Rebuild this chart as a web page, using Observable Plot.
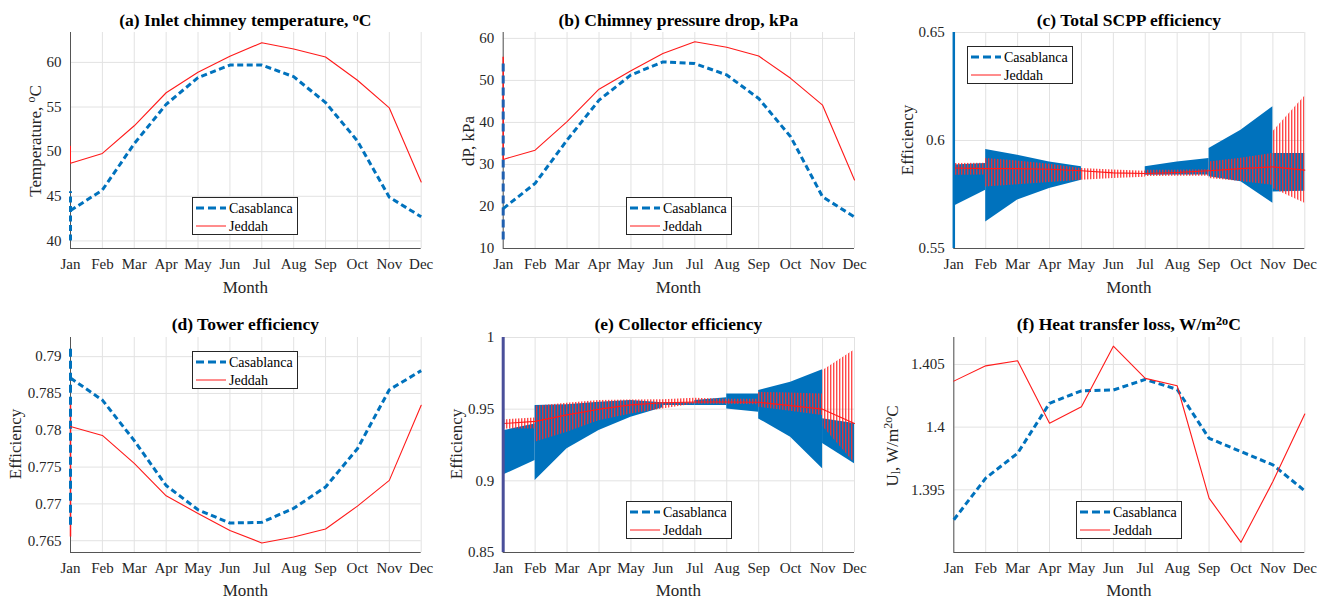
<!DOCTYPE html>
<html>
<head>
<meta charset="utf-8">
<script src="https://cdn.jsdelivr.net/npm/d3@7"></script>
<script src="https://cdn.jsdelivr.net/npm/@observablehq/plot@0.6"></script>
<style>
  body { margin: 0; background: #fff; font-family: 'Liberation Serif', serif; }
  #root { position: relative; width: 1331px; height: 601px; overflow: hidden; background: #fff; }
  .panel { position: absolute; }
  .title { position: absolute; font-family: 'Liberation Serif', serif; font-weight: bold; font-size: 17.5px; line-height: 17px; color: #000; white-space: nowrap; transform: translateX(-50%); }
  .xlab { position: absolute; font-family: 'Liberation Serif', serif; font-size: 17px; line-height: 17px; color: #262626; white-space: nowrap; transform: translate(-50%, -50%); }
  .ylab { position: absolute; font-family: 'Liberation Serif', serif; font-size: 17px; line-height: 17px; color: #262626; white-space: nowrap; transform: translate(-50%, -50%) rotate(-90deg); }
  sup { font-size: 0.7em; vertical-align: 0.45em; line-height: 0; }
  sub { font-size: 0.7em; vertical-align: -0.25em; line-height: 0; }
  .legend { position: absolute; }
</style>
</head>
<body>
<svg width="0" height="0" style="position:absolute">
  <defs>
    <pattern id="hatchRed" patternUnits="userSpaceOnUse" width="3" height="10">
      <rect x="0" y="0" width="1.4" height="10" fill="#ff2a2a" fill-opacity="0.85"></rect>
    </pattern>
  </defs>
</svg>
<div id="root"></div>
<script>
// ---------------- data ----------------
const months = ["Jan","Feb","Mar","Apr","May","Jun","Jul","Aug","Sep","Oct","Nov","Dec"];
const monthIdx = d3.range(12);
const seriesNames = ["Casablanca", "Jeddah"];

// (a) Inlet chimney temperature
const tempCasa = [43.4, 45.7, 50.9, 55.3, 58.3, 59.7, 59.7, 58.4, 55.5, 51.2, 44.9, 42.7];
const tempJed  = [48.7, 49.8, 52.9, 56.6, 58.9, 60.7, 62.2, 61.5, 60.6, 58.0, 54.9, 46.6];
const tempTicks = [40, 45, 50, 55, 60];
const tempJanCasa = [40.0, 45.5];
const tempJanJed  = [48.7, 50.6];

// (b) Chimney pressure drop
const dpCasa = [19.5, 25.5, 35.8, 45.3, 51.3, 54.4, 54.0, 51.3, 45.7, 36.6, 22.3, 17.5];
const dpJed  = [31.2, 33.4, 40.2, 47.9, 52.3, 56.4, 59.2, 57.9, 55.8, 50.5, 44.1, 26.3];
const dpTicks = [10, 20, 30, 40, 50, 60];
const dpJanCasa = [12.0, 54.8];
const dpJanJed  = [31.2, 55.5];

// (c) Total SCPP efficiency (oscillation envelopes)
const cCasaX   = [0, 1,   1, 2, 3, 4,   6, 7, 8,   8, 9, 10,   10, 11];
const cCasaLo  = [0.5696, 0.5770,  0.5623, 0.5724, 0.5778, 0.5816,  0.5839, 0.5840, 0.5840,  0.5832, 0.5809, 0.5709,  0.5762, 0.5765];
const cCasaHi  = [0.5886, 0.5893,  0.5958, 0.5932, 0.5900, 0.5878,  0.5878, 0.5900, 0.5917,  0.5963, 0.6048, 0.6156,  0.5940, 0.5940];
const cCasaSeg = [0, 0,   1, 1, 1, 1,   2, 2, 2,   3, 3, 3,   4, 4];
const cJedX    = [0, 1,   1, 2, 3, 4, 5, 6,   6, 7, 8,   8, 9, 10,   10, 11];
const cJedLo   = [0.5839, 0.5840,  0.5785, 0.5795, 0.5805, 0.5816, 0.5824, 0.5830,  0.5833, 0.5835, 0.5835,  0.5824, 0.5810, 0.5793,  0.5778, 0.5709];
const cJedHi   = [0.5894, 0.5895,  0.5917, 0.5905, 0.5890, 0.5870, 0.5863, 0.5858,  0.5862, 0.5862, 0.5865,  0.5900, 0.5918, 0.5940,  0.6040, 0.6205];
const cJedSeg  = [0, 0,   1, 1, 1, 1, 1, 1,   2, 2, 2,   3, 3, 3,   4, 4];
const cJedMid  = [0.5873, 0.5870, 0.5870, 0.5867, 0.5860, 0.5850, 0.5847, 0.5852, 0.5860, 0.5870, 0.5878, 0.5863];
const cTicks = [0.55, 0.6, 0.65];
const cJanCasa = [0.55, 0.65];

// (d) Tower efficiency
const towCasa = [0.7871, 0.7841, 0.7786, 0.7725, 0.7692, 0.7674, 0.7675, 0.7694, 0.7723, 0.7775, 0.7855, 0.7881];
const towJed  = [0.7805, 0.7793, 0.7755, 0.7711, 0.7687, 0.7664, 0.7647, 0.7655, 0.7666, 0.7697, 0.7732, 0.7834];
const towTicks = [0.765, 0.77, 0.775, 0.78, 0.785, 0.79];
const towJanCasa = [0.7671, 0.7913];
const towJanJed  = [0.7655, 0.7840];

// (e) Collector efficiency (oscillation envelopes)
const eCasaX   = [0, 1,   1, 2, 3, 4, 5,   5, 6,   6, 7,   7, 8,   8, 9, 10,   10, 11];
const eCasaLo  = [0.9040, 0.9142,  0.9003, 0.9223, 0.9351, 0.9444, 0.9510,  0.9525, 0.9525,  0.9525, 0.9525,  0.9502, 0.9478,  0.9432, 0.9304, 0.9084,  0.9260, 0.9120];
const eCasaHi  = [0.9350, 0.9397,  0.9525, 0.9530, 0.9548, 0.9560, 0.9545,  0.9545, 0.9545,  0.9560, 0.9580,  0.9606, 0.9606,  0.9630, 0.9687, 0.9775,  0.9434, 0.9400];
const eCasaSeg = [0, 0,   1, 1, 1, 1, 1,   2, 2,   3, 3,   4, 4,   5, 5, 5,   6, 6];
const eJedX    = [0, 1,   1, 2, 3, 4, 5, 6,   6, 7, 8,   8, 9, 10,   10, 11];
const eJedLo   = [0.9362, 0.9362,  0.9270, 0.9339, 0.9420, 0.9467, 0.9502, 0.9536,  0.9536, 0.9535, 0.9530,  0.9513, 0.9485, 0.9455,  0.9380, 0.9125];
const eJedHi   = [0.9425, 0.9439,  0.9520, 0.9541, 0.9560, 0.9564, 0.9566, 0.9576,  0.9576, 0.9570, 0.9570,  0.9617, 0.9612, 0.9606,  0.9768, 0.9912];
const eJedSeg  = [0, 0,   1, 1, 1, 1, 1, 1,   2, 2, 2,   3, 3, 3,   4, 4];
const eJedMid  = [0.9400, 0.9415, 0.9460, 0.9500, 0.9530, 0.9545, 0.9550, 0.9550, 0.9548, 0.9525, 0.9500, 0.9400];
const eTicks = [0.85, 0.9, 0.95, 1];
const eJanLine = [0.85, 1.0];

// (f) Heat transfer loss
const htCasa = [1.39261, 1.39593, 1.39792, 1.40190, 1.40290, 1.40296, 1.40381, 1.40301, 1.39911, 1.39805, 1.39699, 1.39492];
const htJed  = [1.40367, 1.40489, 1.40529, 1.40031, 1.40163, 1.40646, 1.40389, 1.40330, 1.39434, 1.39081, 1.39566, 1.40105];
const htTicks = [1.395, 1.4, 1.405];

// ---------------- styling ----------------
const FONT = "'Liberation Serif', serif";
const BLUE = "#0072BD", RED = "#ff1a1a", AXIS = "#555555", GRID = "#e2e2e2";
const DASH = "6,3.5";
const root = document.getElementById("root");

function addHTML(cls, html, x, y) {
  const d = document.createElement("div");
  d.className = cls;
  d.innerHTML = html;
  d.style.left = x + "px";
  d.style.top = y + "px";
  root.appendChild(d);
}

function legend(x, y) {
  const d = document.createElement("div");
  d.className = "legend";
  d.style.left = x + "px";
  d.style.top = y + "px";
  d.innerHTML = `<svg width="106" height="38" style="display:block">
    <rect x="0.5" y="0.5" width="105" height="37" fill="#fff" stroke="#262626" stroke-width="1"></rect>
    <line x1="4" x2="34" y1="11" y2="11" stroke="${BLUE}" stroke-width="3" stroke-dasharray="8,4"></line>
    <line x1="4" x2="34" y1="29" y2="29" stroke="${RED}" stroke-width="1"></line>
    <text x="37" y="16" font-size="14" fill="#000" style="font-family:${FONT}">${seriesNames[0]}</text>
    <text x="37" y="34" font-size="14" fill="#000" style="font-family:${FONT}">${seriesNames[1]}</text>
  </svg>`;
  root.appendChild(d);
}

function panel(cfg) {
  const {left, top, width, height, ml, mr, mt, mb, yDomain, yTicks, yFmt, marks,
         title, ylab, ylabPos, legendPos} = cfg;
  const svg = Plot.plot({
    width, height,
    marginLeft: ml, marginRight: mr, marginTop: mt, marginBottom: mb,
    style: {fontFamily: FONT, fontSize: "15px", color: "#262626", background: "transparent", overflow: "visible"},
    x: {type: "linear", domain: [0, 11]},
    y: {type: "linear", domain: yDomain},
    marks: [
      Plot.gridX(monthIdx, {stroke: GRID, strokeOpacity: 1}),
      Plot.gridY(yTicks, {stroke: GRID, strokeOpacity: 1}),
      Plot.axisX(monthIdx, {tickFormat: i => months[i], tickSize: 0, tickPadding: 10, fontSize: 15, label: null}),
      Plot.axisY(yTicks, {tickFormat: yFmt, tickSize: 0, tickPadding: 9, fontSize: 15, label: null}),
      Plot.ruleX([0], {stroke: AXIS, strokeWidth: 1}),
      Plot.ruleY([yDomain[0]], {stroke: AXIS, strokeWidth: 1}),
      ...marks
    ]
  });
  const wrap = document.createElement("div");
  wrap.className = "panel";
  wrap.style.left = left + "px";
  wrap.style.top = top + "px";
  wrap.appendChild(svg);
  root.appendChild(wrap);
  const cx = left + ml + (width - ml - mr) / 2;
  addHTML("title", title, cx, top + (top === 0 ? 12 : 16));
  addHTML("xlab", "Month", cx, top + height - mb + (top === 0 ? 39 : 38));
  addHTML("ylab", ylab, ylabPos[0], ylabPos[1]);
  legend(legendPos[0], legendPos[1]);
}

const fmt = d => String(d);

function lineCasa(vals) {
  return Plot.line(monthIdx, {x: i => i, y: i => vals[i], stroke: BLUE, strokeWidth: 3, strokeDasharray: DASH, strokeLinecap: "butt"});
}
function lineJed(vals) {
  return Plot.line(monthIdx, {x: i => i, y: i => vals[i], stroke: RED, strokeWidth: 1.1});
}
function janRule(span, stroke, sw, dash) {
  return Plot.ruleX([span], {x: 0, y1: d => d[0], y2: d => d[1], stroke, strokeWidth: sw, strokeDasharray: dash, strokeLinecap: "butt"});
}
function band(X, Lo, Hi, Seg, fill, opacity) {
  return Plot.areaY(X.map((_, i) => i), {x: i => X[i], y1: i => Lo[i], y2: i => Hi[i], z: i => Seg[i], fill, fillOpacity: opacity, curve: "linear"});
}

// (a)
panel({left: 0, top: 0, width: 440, height: 300, ml: 70, mr: 19.3, mt: 32, mb: 52,
  yDomain: [39.15, 63.35], yTicks: tempTicks, yFmt: fmt,
  title: "(a) Inlet chimney temperature, <sup>o</sup>C",
  ylab: "Temperature, <sup>o</sup>C", ylabPos: [35, 141], legendPos: [192, 197],
  marks: [
    janRule(tempJanCasa, BLUE, 3, DASH),
    janRule(tempJanJed, RED, 1, null),
    lineCasa(tempCasa), lineJed(tempJed)
  ]});

// (b)
panel({left: 440, top: 0, width: 440, height: 300, ml: 62.7, mr: 26, mt: 32, mb: 52,
  yDomain: [10, 61.4], yTicks: dpTicks, yFmt: fmt,
  title: "(b) Chimney pressure drop, kPa",
  ylab: "dP, kPa", ylabPos: [467.5, 141], legendPos: [626, 197],
  marks: [
    janRule(dpJanJed, RED, 1.5, null),
    janRule(dpJanCasa, "#2060b0", 3, "8,4"),
    lineCasa(dpCasa), lineJed(dpJed)
  ]});

// (c)
panel({left: 880, top: 0, width: 451, height: 300, ml: 73.3, mr: 26.7, mt: 32, mb: 52,
  yDomain: [0.55, 0.65], yTicks: cTicks, yFmt: fmt,
  title: "(c) Total SCPP efficiency",
  ylab: "Efficiency", ylabPos: [906.5, 140], legendPos: [967, 46],
  marks: [
    band(cCasaX, cCasaLo, cCasaHi, cCasaSeg, BLUE, 1),
    band(cJedX, cJedLo, cJedHi, cJedSeg, "url(#hatchRed)", 1),
    lineJed(cJedMid),
    janRule(cJanCasa, BLUE, 2.5, null)
  ]});

// (d)
panel({left: 0, top: 300, width: 440, height: 301, ml: 70, mr: 19.3, mt: 37, mb: 49,
  yDomain: [0.7634, 0.7926], yTicks: towTicks, yFmt: fmt,
  title: "(d) Tower efficiency",
  ylab: "Efficiency", ylabPos: [15, 444], legendPos: [192, 351],
  marks: [
    janRule(towJanJed, RED, 1.5, null),
    janRule(towJanCasa, BLUE, 3, "8,4"),
    lineCasa(towCasa), lineJed(towJed)
  ]});

// (e)
panel({left: 440, top: 300, width: 440, height: 301, ml: 62.7, mr: 26, mt: 37, mb: 49,
  yDomain: [0.85, 1.0], yTicks: eTicks, yFmt: fmt,
  title: "(e) Collector efficiency",
  ylab: "Efficiency", ylabPos: [456, 444], legendPos: [626, 501],
  marks: [
    band(eCasaX, eCasaLo, eCasaHi, eCasaSeg, BLUE, 1),
    band(eJedX, eJedLo, eJedHi, eJedSeg, "url(#hatchRed)", 1),
    lineJed(eJedMid),
    janRule(eJanLine, "#4a4f9a", 3, null)
  ]});

// (f)
panel({left: 880, top: 300, width: 451, height: 301, ml: 73.3, mr: 26.7, mt: 37, mb: 49,
  yDomain: [1.3900, 1.40715], yTicks: htTicks, yFmt: fmt,
  title: "(f) Heat transfer loss, W/m<sup>2o</sup>C",
  ylab: "U<sub>l</sub>, W/m<sup>2o</sup>C", ylabPos: [892, 446], legendPos: [1076, 501],
  marks: [
    lineCasa(htCasa), lineJed(htJed)
  ]});
</script>
</body>
</html>
